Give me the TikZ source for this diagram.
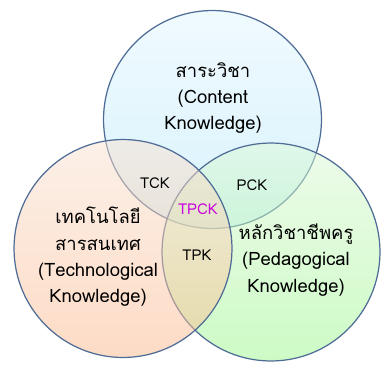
\documentclass[tikz,border=0pt]{standalone}
\usepackage{fontspec}
\setmainfont{Loma}[Script=Thai]
\definecolor{rim}{RGB}{78,108,150}
\definecolor{tpck}{RGB}{200,0,220}
\tikzset{
	set/.style={circle,minimum size=4.36cm,fill opacity=0.5,draw=rim,line width=0.7pt},
	label/.style={align=center,font=\fontsize{10.5}{15}\selectfont},
	part/.style={font=\fontsize{8.5}{10}\selectfont}
}
\begin{document}
\begin{tikzpicture}[x=0.02cm,y=-0.02cm]
		\useasboundingbox (0,0) rectangle (382,372);
		\node[set,top color={rgb,255:red,225;green,246;blue,254},bottom color={rgb,255:red,178;green,230;blue,250}] (content) at (212.5,119.5) {};
		\node[set,top color={rgb,255:red,220;green,248;blue,214},bottom color={rgb,255:red,155;green,247;blue,140}] (peda) at (271,252) {};
		\node[set,top color={rgb,255:red,250;green,226;blue,210},bottom color={rgb,255:red,251;green,184;blue,140}] (tech) at (123,248.5) {};
		
		\node[label] (ck) at (213,98) {สาระวิชา\\(Content\\Knowledge)};
		\node[label] (tk) at (98,257) {เทคโนโลยี\\สารสนเทศ\\(Technological\\Knowledge)};
		\node[label] (pk) at (296,260) {หลักวิชาชีพครู\\(Pedagogical\\Knowledge)};
		
		\node[part] (tck) at (155,183) {TCK};
		\node[part] (pck) at (252,185) {PCK};
		\node[part,text=tpck] (tpckl) at (198,209) {TPCK};
		\node[part] (tpk) at (197,255) {TPK};
	\end{tikzpicture}
\end{document}
